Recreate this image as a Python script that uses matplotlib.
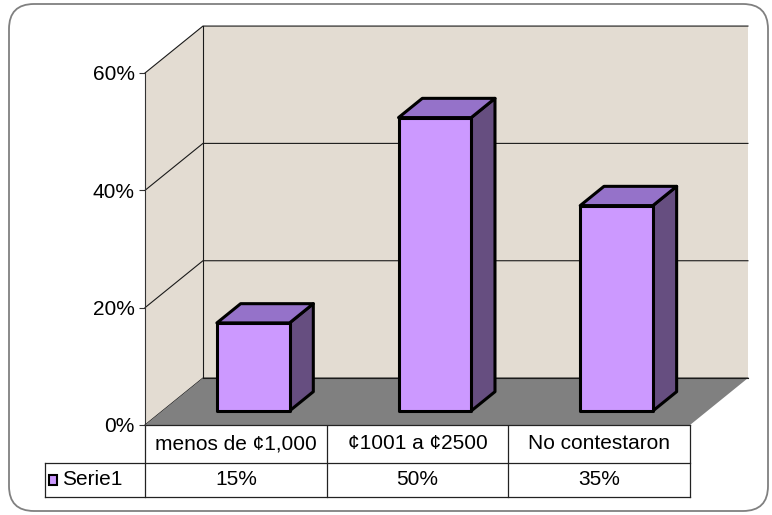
import numpy as np
import matplotlib
matplotlib.use('Agg')
import matplotlib.pyplot as plt
from matplotlib.patches import Polygon, FancyBboxPatch, Rectangle

plt.rcParams['font.family'] = ['Liberation Sans', 'DejaVu Sans']

# data
categorias = ['menos de ¢1,000', '¢1001 a ¢2500', 'No contestaron']
valores = [15, 50, 35]          # percent
serie = 'Serie1'
ticks_y = [0, 20, 40, 60]

# colours
c_front = '#CC99FF'
c_top = '#9572C9'
c_side = '#664E80'
c_wall = '#E3DCD2'
c_floor = '#808080'

# depth vector of the 3d box (data units) and bar geometry
DX, DY = 0.319, 8.0
t0, t1 = 0.30, 0.71
w = 0.40
fs = 15

fig = plt.figure(figsize=(7.72, 5.15), dpi=100)

# rounded outer frame
frame = FancyBboxPatch((0.09, 0.04), 7.59, 5.07,
                       boxstyle='round,pad=0,rounding_size=0.25',
                       transform=fig.dpi_scale_trans, facecolor='white',
                       edgecolor='#808080', linewidth=1.3, zorder=-1)
fig.patches.append(frame)

ax = fig.add_axes([145/772, 90/515, 545/772, 352/515])
ax.set_xlim(0, 3)
ax.set_ylim(0, 60)
ax.patch.set_visible(False)
for s in ['top', 'right', 'bottom']:
    ax.spines[s].set_visible(False)
ax.spines['left'].set_color('#333333')
ax.spines['left'].set_zorder(6)
ax.set_xticks([])
ax.set_yticks(ticks_y)
ax.set_yticklabels([f'{t}%' for t in ticks_y], fontsize=fs)
ax.tick_params(axis='y', direction='out', length=4.5, color='#333333', pad=3)

n = len(categorias)
ymax = ticks_y[-1]

# walls
side = Polygon([(0, 0), (DX, DY), (DX, ymax + DY), (0, ymax)], closed=True,
               facecolor=c_wall, edgecolor='none', zorder=1, clip_on=False)
back = Polygon([(DX, DY), (n + DX, DY), (n + DX, ymax + DY), (DX, ymax + DY)],
               closed=True, facecolor=c_wall, edgecolor='none', zorder=1, clip_on=False)
ax.add_patch(side)
ax.add_patch(back)

# gridlines on back and side wall
for g in ticks_y:
    ax.plot([0, DX, n + DX], [g, g + DY, g + DY], color='#1a1a1a', lw=0.8,
            zorder=2, clip_on=False)
ax.plot([DX, DX], [DY, ymax + DY], color='#1a1a1a', lw=0.8, zorder=2, clip_on=False)

# floor
floor = Polygon([(0, 0), (n, 0), (n + DX, DY), (DX, DY)], closed=True,
                facecolor=c_floor, edgecolor='none', zorder=3, clip_on=False)
ax.add_patch(floor)
ax.plot([DX, n + DX], [DY, DY], color='#1a1a1a', lw=0.8, zorder=3, clip_on=False)

# bars
for i, v in enumerate(valores):
    xl = i + 0.5 - w / 2 + t0 * DX
    xr = xl + w
    yb = t0 * DY
    yt = yb + v
    ddx = (t1 - t0) * DX
    ddy = (t1 - t0) * DY
    kw = dict(closed=True, edgecolor='black', linewidth=2.2, zorder=4,
              joinstyle='round', clip_on=False)
    ax.add_patch(Polygon([(xr, yb), (xr + ddx, yb + ddy), (xr + ddx, yt + ddy), (xr, yt)],
                         facecolor=c_side, **kw))
    ax.add_patch(Polygon([(xl, yt), (xr, yt), (xr + ddx, yt + ddy), (xl + ddx, yt + ddy)],
                         facecolor=c_top, **kw))
    ax.add_patch(Polygon([(xl, yb), (xr, yb), (xr, yt), (xl, yt)],
                         facecolor=c_front, **kw))

# data table under the plot
h1, h2 = -6.4, -12.3
xleg = -0.55
lc = '#222222'
ax.plot([0, n], [0, 0], color=lc, lw=0.9, zorder=5, clip_on=False)
ax.plot([xleg, n], [h1, h1], color=lc, lw=0.9, clip_on=False)
ax.plot([xleg, n], [h2, h2], color=lc, lw=0.9, clip_on=False)
ax.plot([xleg, xleg], [h1, h2], color=lc, lw=0.9, clip_on=False)
for k in range(n + 1):
    ax.plot([k, k], [0, h2], color=lc, lw=0.9, clip_on=False)

for i, cat in enumerate(categorias):
    ax.text(i + 0.5, h1 / 2, cat, ha='center', va='center', fontsize=fs, clip_on=False)
    ax.text(i + 0.5, (h1 + h2) / 2, f'{valores[i]}%', ha='center', va='center',
            fontsize=fs, clip_on=False)

ax.add_patch(Rectangle((xleg + 0.02, (h1 + h2) / 2 - 0.8), 0.045, 1.6,
                       facecolor=c_front, edgecolor='black', lw=1.5, clip_on=False))
ax.text(xleg + 0.095, (h1 + h2) / 2, serie, ha='left', va='center', fontsize=fs,
        clip_on=False)

fig.savefig('out.png', dpi=100)
